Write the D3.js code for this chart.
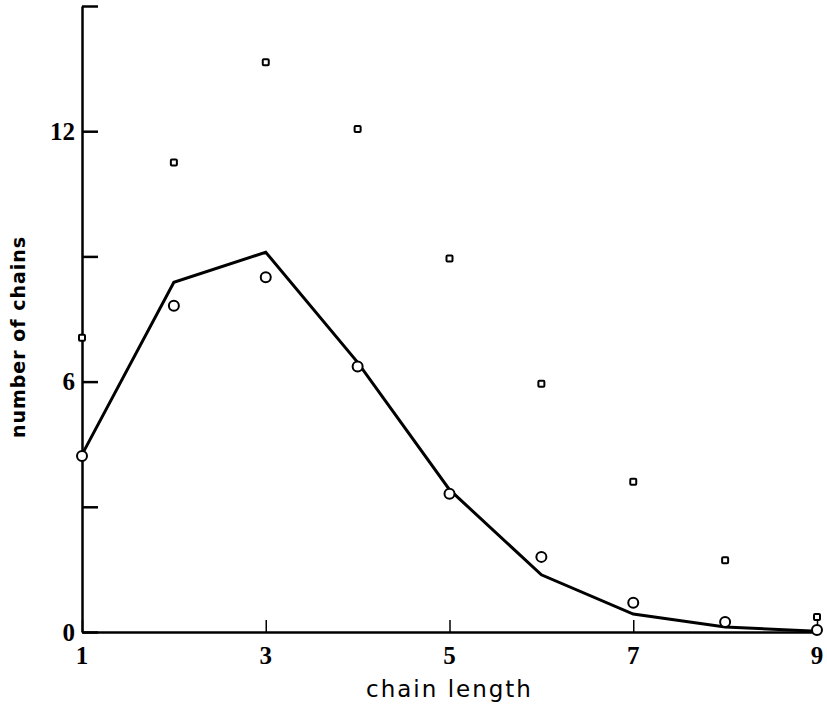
<!DOCTYPE html>
<html>
<meta charset="utf-8" />
<script src="https://d3js.org/d3.v7.min.js"></script>
<style>
  body { margin: 0; background: #fff; }
</style>
<body>
<div id="chart"></div>
<script>
// chain length categories
var lengths = [1, 2, 3, 4, 5, 6, 7, 8, 9];
// squares (upper series)
var squares = [7.05, 11.25, 13.65, 12.05, 8.95, 5.95, 3.6, 1.72, 0.36];
// circles
var circles = [4.22, 7.82, 8.5, 6.36, 3.31, 1.8, 0.7, 0.24, 0.05];
// fitted curve
var fit = [4.25, 8.38, 9.1, 6.46, 3.41, 1.37, 0.43, 0.12, 0.02];

var xTicks = [1, 3, 5, 7, 9];
var yTicks = [0, 3, 6, 9, 12, 15];
var yLabels = [0, 6, 12];

var W = 827, H = 715;
var margin = {top: 6, right: 10, bottom: 83, left: 82};

var svg = d3.select("#chart").append("svg")
    .attr("width", W).attr("height", H);

var x = d3.scaleLinear().domain([1, 9]).range([margin.left, W - margin.right]);
var y = d3.scaleLinear().domain([0, 15]).range([H - margin.bottom, margin.top]);

// y axis, ticks inward
var yAxis = svg.append("g")
    .attr("transform", "translate(" + margin.left + ",0)")
    .call(d3.axisRight(y).tickValues(yTicks).tickSize(16).tickSizeOuter(0).tickFormat(""));
yAxis.select(".domain").attr("stroke-width", 2.5);
yAxis.selectAll(".tick line").attr("stroke-width", 2.5);

yAxis.selectAll(".ylab")
  .data(yLabels)
  .enter().append("text")
    .attr("x", -7)
    .attr("y", function(d) { return y(d); })
    .attr("dy", "0.35em")
    .attr("text-anchor", "end")
    .attr("font-family", "Liberation Serif, serif")
    .attr("font-weight", "bold")
    .attr("font-size", 25)
    .attr("fill", "black")
    .text(function(d) { return d; });

// x axis, ticks inward
var xAxis = svg.append("g")
    .attr("transform", "translate(0," + y(0) + ")")
    .call(d3.axisTop(x).tickValues(xTicks).tickSize(12).tickSizeOuter(0).tickFormat(""));
xAxis.select(".domain").attr("stroke-width", 2.5);
xAxis.selectAll(".tick line").attr("stroke-width", 1.5);

xAxis.selectAll(".xlab")
  .data(xTicks)
  .enter().append("text")
    .attr("x", function(d) { return x(d); })
    .attr("y", 32)
    .attr("text-anchor", "middle")
    .attr("font-family", "Liberation Serif, serif")
    .attr("font-weight", "bold")
    .attr("font-size", 25)
    .attr("fill", "black")
    .text(function(d) { return d; });

// axis titles
svg.append("text")
    .attr("x", (x(1) + x(9)) / 2)
    .attr("y", 697)
    .attr("text-anchor", "middle")
    .attr("font-family", "DejaVu Sans, sans-serif")
    .attr("font-size", 23)
    .attr("letter-spacing", 2)
    .text("chain length");

svg.append("text")
    .attr("transform", "translate(25," + 337 + ") rotate(-90)")
    .attr("text-anchor", "middle")
    .attr("font-family", "DejaVu Sans, sans-serif")
    .attr("font-weight", "bold")
    .attr("font-size", 19)
    .attr("letter-spacing", 1)
    .text("number of chains");

// fitted line
var line = d3.line()
    .x(function(d, i) { return x(lengths[i]); })
    .y(function(d) { return y(d); });

svg.append("path")
    .datum(fit)
    .attr("fill", "none")
    .attr("stroke", "black")
    .attr("stroke-width", 3)
    .attr("d", line);

// circles
svg.append("g").selectAll("circle")
  .data(circles)
  .enter().append("circle")
    .attr("cx", function(d, i) { return x(lengths[i]); })
    .attr("cy", function(d) { return y(d); })
    .attr("r", 5)
    .attr("fill", "white")
    .attr("stroke", "black")
    .attr("stroke-width", 2);

// squares
svg.append("g").selectAll("rect")
  .data(squares)
  .enter().append("rect")
    .attr("x", function(d, i) { return x(lengths[i]) - 3; })
    .attr("y", function(d) { return y(d) - 3; })
    .attr("width", 6)
    .attr("height", 6)
    .attr("rx", 1)
    .attr("fill", "white")
    .attr("stroke", "black")
    .attr("stroke-width", 2);
</script>
</body>
</html>
